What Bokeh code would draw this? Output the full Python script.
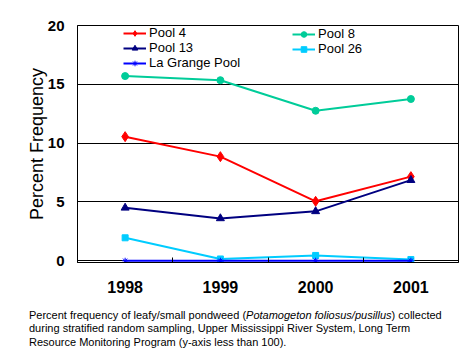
from bokeh.plotting import figure
from bokeh.models import (Legend, LegendItem, FixedTicker, Range1d, Div)
from bokeh.layouts import column
from bokeh.embed import file_html
from bokeh.resources import INLINE

years = [1998, 1999, 2000, 2001]
pool4 = [10.55, 8.85, 5.05, 7.15]
pool8 = [15.7, 15.35, 12.75, 13.75]
pool13 = [4.5, 3.6, 4.2, 6.85]
pool26 = [1.95, 0.15, 0.45, 0.1]
lagrange = [0.0, 0.0, 0.0, 0.0]
y_ticks = [0, 5, 10, 15, 20]

caption_before = "Percent frequency of leafy/small pondweed ("
caption_species = "Potamogeton foliosus/pusillus"
caption_after = ") collected"
caption_line2 = "during stratified random sampling, Upper Mississippi River System, Long Term"
caption_line3 = "Resource Monitoring Program (y-axis less than 100)."

FONT = "Liberation Sans"

p = figure(width=468, height=300, output_backend="svg", toolbar_location=None,
           x_range=Range1d(1997.5, 2001.5), y_range=Range1d(-0.15, 20),
           min_border_left=77, min_border_right=10, min_border_top=25,
           min_border_bottom=38)
p.background_fill_color = "white"
p.border_fill_color = "white"
p.outline_line_color = "black"
p.outline_line_width = 1

# x axis
xa = p.xaxis[0]
xa.ticker = FixedTicker(ticks=years, minor_ticks=[y + 0.5 for y in years[:-1]])
xa.major_tick_in = 0
xa.major_tick_out = 0
xa.minor_tick_in = 5
xa.minor_tick_out = 0
xa.minor_tick_line_color = "black"
xa.axis_line_color = "black"
xa.major_label_text_font = FONT
xa.major_label_text_font_size = "16px"
xa.major_label_text_font_style = "bold"
xa.major_label_text_color = "black"
xa.major_label_standoff = 18

# y axis
ya = p.yaxis[0]
ya.ticker = FixedTicker(ticks=y_ticks)
ya.major_tick_in = 0
ya.major_tick_out = 0
ya.minor_tick_in = 0
ya.minor_tick_out = 0
ya.axis_line_color = "black"
ya.major_label_text_font = FONT
ya.major_label_text_font_size = "15px"
ya.major_label_text_font_style = "bold"
ya.major_label_text_color = "black"
ya.major_label_standoff = 13
ya.axis_label = "Percent Frequency"
ya.axis_label_text_font = FONT
ya.axis_label_text_font_size = "18px"
ya.axis_label_text_font_style = "normal"
ya.axis_label_text_color = "black"
ya.axis_label_standoff = -2

p.xgrid.grid_line_color = None
p.ygrid.grid_line_color = "black"
p.ygrid.grid_line_width = 1

series = [
    ("Pool 4", pool4, "#FF0000", "diamond", 10),
    ("Pool 8", pool8, "#00CC99", "circle", 7),
    ("Pool 13", pool13, "#000080", "triangle", 8),
    ("Pool 26", pool26, "#00CCFF", "square", 6),
    ("La Grange Pool", lagrange, "#0000FF", "asterisk", 6),
]

items = {}
for name, vals, color, marker, size in series:
    l = p.line(years, vals, line_color=color, line_width=2)
    s = p.scatter(years, vals, marker=marker, size=size, fill_color=color,
                  line_color=color, line_width=1)
    items[name] = LegendItem(label=name, renderers=[l, s])

def make_legend(names, loc):
    lg = Legend(items=[items[n] for n in names], location=loc,
                orientation="vertical", border_line_color=None,
                background_fill_alpha=0, padding=0, margin=0, spacing=-1,
                glyph_width=23, glyph_height=14, label_height=14,
                label_standoff=3, label_text_font=FONT,
                label_text_font_size="13px", label_text_color="black")
    return lg

p.add_layout(make_legend(["Pool 4", "Pool 13", "La Grange Pool"], (46, 192)), "center")
p.add_layout(make_legend(["Pool 8", "Pool 26"], (215, 206)), "center")

caption_html = (
    '<div style="font-family: \'Liberation Sans\', Arial, sans-serif; font-size: 11px; '
    'line-height: 13.4px; color: black; padding-left: 29px; padding-top: 9px; '
    'white-space: nowrap;">'
    f'{caption_before}<i>{caption_species}</i>{caption_after}<br>'
    f'{caption_line2}<br>{caption_line3}</div>'
)
div = Div(text=caption_html, width=468, height=60, margin=0)

layout = column(p, div, spacing=0)
open("out.html", "w").write(file_html(layout, INLINE))
